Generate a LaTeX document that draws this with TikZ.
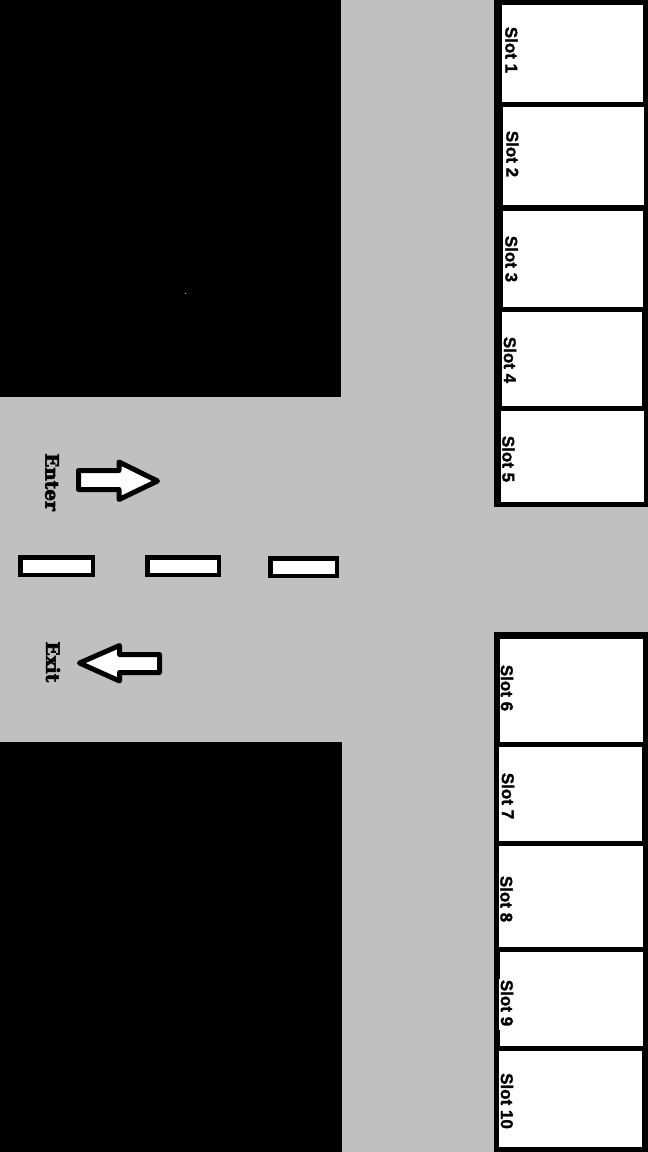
\documentclass[tikz,border=0pt]{standalone}
\usepackage{fontspec}
\setmainfont[BoldFeatures={FakeBold=1.6}]{Liberation Sans}
\newfontfamily\signfont[BoldFeatures={FakeBold=3}]{DejaVu Serif}
\definecolor{roadgray}{HTML}{C0C0C0}

\begin{document}
\begin{tikzpicture}[x=1pt, y=-1pt,
    slotlabel/.style={rotate=-90, inner sep=0pt, font=\fontsize{17}{18}\selectfont\bfseries},
    signlabel/.style={rotate=-90, inner sep=0pt, font=\fontsize{18.5}{20}\selectfont\signfont\bfseries},
    marking/.style={draw=black, fill=white, line width=4.5pt},
    arrowsign/.style={draw=black, fill=white, line width=5pt, line join=round}]
\useasboundingbox (0,0) rectangle (648,1152);
\fill[roadgray] (0,0) rectangle (648,1152);

% Black blocks either side of the entrance road
\fill[black] (0,0) rectangle (341,397);
\fill[black] (0,742) rectangle (342,1152);
\fill[roadgray] (184.5,292.5) rectangle (185.5,293.5);

% Upper parking row
\fill[black] (494,0) rectangle (648,507);
\fill[white] (502,5) rectangle (643,102);
\fill[white] (503,107) rectangle (644,205);
\fill[white] (503,211) rectangle (643,307);
\fill[white] (502,312) rectangle (642,406);
\fill[white] (501,411) rectangle (644,502);

% Lower parking row
\fill[black] (494,632) rectangle (648,1152);
\fill[white] (500,639) rectangle (643,742);
\fill[white] (499,747) rectangle (642,841);
\fill[white] (499,846) rectangle (643,947);
\fill[white] (500,952) rectangle (643,1046);
\fill[white] (499,1051) rectangle (642,1147);
\fill[white] (499,979) rectangle (500,1030);

% Slot labels
\node[slotlabel] (slot1) at (511.5,50) {Slot 1};
\node[slotlabel] (slot2) at (512.5,154) {Slot 2};
\node[slotlabel] (slot3) at (511.5,259) {Slot 3};
\node[slotlabel] (slot4) at (510,360) {Slot 4};
\node[slotlabel] (slot5) at (508.5,459) {Slot 5};
\node[slotlabel] (slot6) at (507,688) {Slot 6};
\node[slotlabel] (slot7) at (508,796) {Slot 7};
\node[slotlabel] (slot8) at (506.5,899) {Slot 8};
\node[slotlabel] (slot9) at (507,1003) {Slot 9};
\node[slotlabel] (slot10) at (507,1101) {Slot 10};

% Centre line of the entrance road
\draw[marking] (20.25,557.25) rectangle (92.75,574.75);
\draw[marking] (147.25,557.25) rectangle (218.75,574.75);
\draw[marking] (270.25,558.25) rectangle (336.75,575.75);

% Direction arrows
\draw[arrowsign] (78.5,470.5) -- (119,470.5) -- (119,462) -- (157.5,481) -- (119,499.5) -- (119,489.5) -- (78.5,489.5) -- cycle;
\draw[arrowsign] (79.5,663) -- (119.5,645.5) -- (119.5,654.5) -- (159.5,654.5) -- (159.5,672.5) -- (119.5,672.5) -- (119.5,681) -- cycle;

% Direction labels
\node[signlabel] (enter) at (52,482) {Enter};
\node[signlabel] (exit) at (53,662) {Exit};
\end{tikzpicture}
\end{document}
